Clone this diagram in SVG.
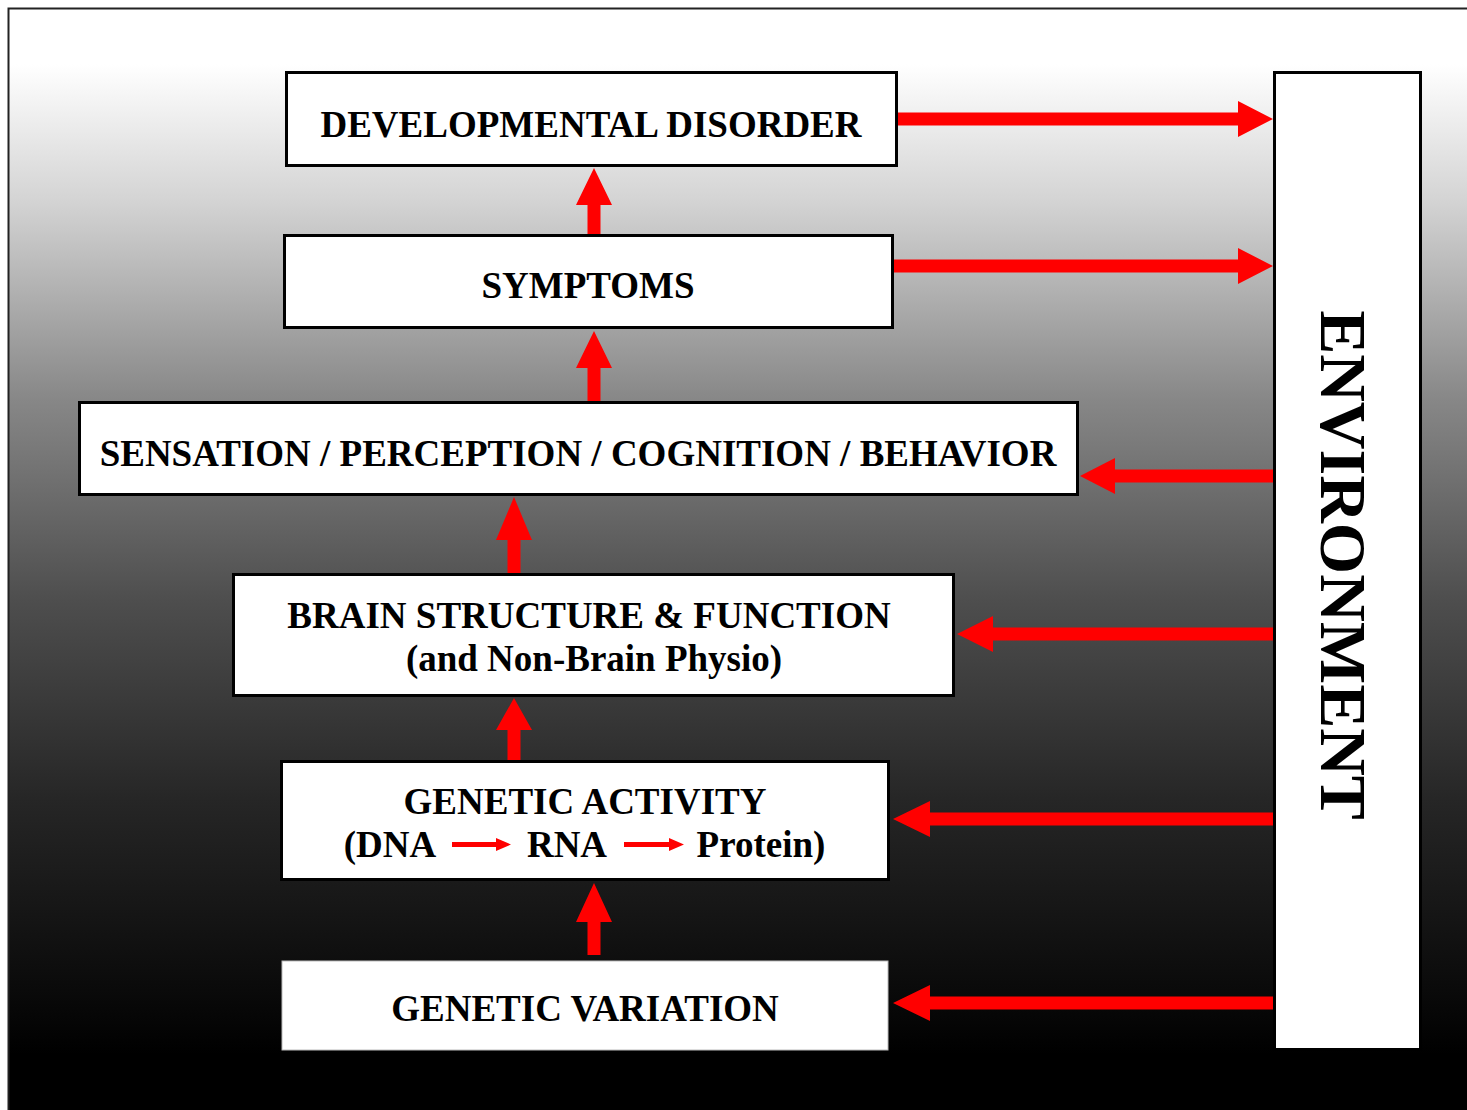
<svg xmlns="http://www.w3.org/2000/svg" width="1467" height="1110" viewBox="0 0 1467 1110">
<defs>
<linearGradient id="bg" x1="0" y1="0" x2="0" y2="1110" gradientUnits="userSpaceOnUse">
<stop offset="0" stop-color="#ffffff"/>
<stop offset="0.058" stop-color="#ffffff"/>
<stop offset="0.18" stop-color="#d4d4d4"/>
<stop offset="0.36" stop-color="#878787"/>
<stop offset="0.54" stop-color="#4e4e4e"/>
<stop offset="0.72" stop-color="#262626"/>
<stop offset="0.88" stop-color="#0c0c0c"/>
<stop offset="0.95" stop-color="#000000"/>
<stop offset="1" stop-color="#000000"/>
</linearGradient>
</defs>
<style>
.box{fill:#ffffff;stroke:#000000;stroke-width:3}
.t{font-family:"Liberation Serif","Times New Roman",serif;font-weight:bold;font-size:37px;fill:#000000;text-anchor:middle}
.arr{fill:#ff0000}
</style>
<rect x="0" y="0" width="1467" height="1110" fill="#ffffff"/>
<rect x="8.5" y="8.5" width="1470" height="1110" fill="url(#bg)" stroke="#222222" stroke-width="2"/>

<g id="connectors">
<polygon class="arr" points="898,112.5 1238,112.5 1238,101 1273,119 1238,137 1238,125.5 898,125.5"/>
<polygon class="arr" points="894,259.5 1238,259.5 1238,248 1273,266 1238,284 1238,272.5 894,272.5"/>
<polygon class="arr" points="1274,469.5 1115,469.5 1115,458 1080,476 1115,494 1115,482.5 1274,482.5"/>
<polygon class="arr" points="1274,627.5 993,627.5 993,616 957,634 993,652 993,640.5 1274,640.5"/>
<polygon class="arr" points="1274,812.5 930,812.5 930,801 893,819 930,837 930,825.5 1274,825.5"/>
<polygon class="arr" points="1274,996.5 930,996.5 930,985 893,1003 930,1021 930,1009.5 1274,1009.5"/>
<polygon class="arr" points="587.5,235 587.5,205 576,205 594,168 612,205 600.5,205 600.5,235"/>
<polygon class="arr" points="587.5,402 587.5,368 576,368 594,331 612,368 600.5,368 600.5,402"/>
<polygon class="arr" points="507.5,574 507.5,540 496,540 514,497 532,540 520.5,540 520.5,574"/>
<polygon class="arr" points="507.5,761 507.5,730 496,730 514,698 532,730 520.5,730 520.5,761"/>
<polygon class="arr" points="587.5,955 587.5,922 576,922 594,883 612,922 600.5,922 600.5,955"/>
</g>

<g id="environment">
<rect class="box" x="1274.5" y="72.5" width="146" height="977"/>
<text class="t" style="font-size:66px" transform="translate(1321,565) rotate(90)">ENVIRONMENT</text>
</g>

<g id="developmental-disorder">
<rect class="box" x="286.5" y="72.5" width="610" height="93"/>
<text class="t" x="591" y="137">DEVELOPMENTAL DISORDER</text>
</g>

<g id="symptoms">
<rect class="box" x="284.5" y="235.5" width="608" height="92"/>
<text class="t" x="588" y="298">SYMPTOMS</text>
</g>

<g id="sensation">
<rect class="box" x="79.5" y="402.5" width="998" height="92"/>
<text class="t" x="578" y="466">SENSATION / PERCEPTION / COGNITION / BEHAVIOR</text>
</g>

<g id="brain">
<rect class="box" x="233.5" y="574.5" width="720" height="121"/>
<text class="t" x="589" y="628">BRAIN STRUCTURE &amp; FUNCTION</text>
<text class="t" x="594" y="671">(and Non-Brain Physio)</text>
</g>

<g id="genetic-activity">
<rect class="box" x="281.5" y="761.5" width="607" height="118"/>
<text class="t" x="585" y="814">GENETIC ACTIVITY</text>
<text class="t" x="390" y="857">(DNA</text>
<polygon class="arr" points="452,842 496,842 496,838 511,844.5 496,851 496,847 452,847"/>
<text class="t" x="567" y="857">RNA</text>
<polygon class="arr" points="624,842 669,842 669,838 684,844.5 669,851 669,847 624,847"/>
<text class="t" x="761" y="857">Protein)</text>
</g>

<g id="genetic-variation">
<rect x="282" y="961" width="606" height="89" fill="#ffffff" stroke="#bbbbbb" stroke-width="1"/>
<text class="t" x="585" y="1021">GENETIC VARIATION</text>
</g>
</svg>
